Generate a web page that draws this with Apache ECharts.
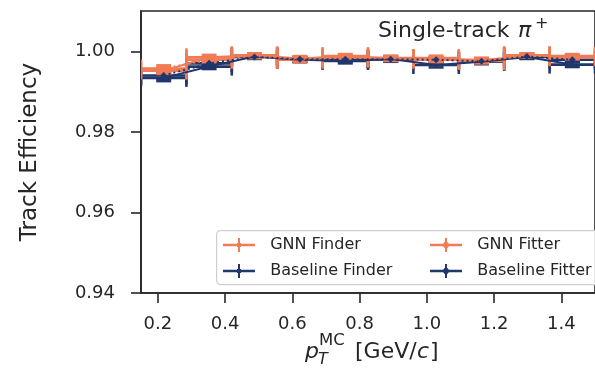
<!DOCTYPE html>
<html><head><meta charset="utf-8">
<script src="https://cdn.jsdelivr.net/npm/echarts@6/dist/echarts.min.js"></script>
<style>html,body{margin:0;padding:0;background:#fff}#c{width:595px;height:369px}</style>
</head><body><div id="c"></div>
<script>
// ---- data ----
const binEdges = [0.15, 0.285, 0.42, 0.555, 0.69, 0.825, 0.96, 1.095, 1.23, 1.365, 1.5];
const gnnFinder      = [0.9952, 0.9985, 0.9990, 0.9982, 0.9988, 0.9983, 0.9983, 0.9978, 0.9989, 0.9988];
const gnnFinderErr   = [0.0008, 0.0006, 0.0005, 0.0006, 0.0005, 0.0006, 0.0006, 0.0006, 0.0005, 0.0005];
const baseFinder     = [0.9934, 0.9962, 0.9987, 0.9979, 0.9976, 0.9981, 0.9966, 0.9974, 0.9986, 0.9967];
const baseFinderErr  = [0.0008, 0.0006, 0.0005, 0.0006, 0.0006, 0.0006, 0.0006, 0.0006, 0.0005, 0.0006];
const gnnFitter      = [0.9957, 0.9979, 0.9988, 0.9979, 0.9984, 0.9982, 0.9979, 0.9976, 0.9990, 0.9985];
const gnnFitterErr   = [0.0008, 0.0006, 0.0005, 0.0006, 0.0005, 0.0006, 0.0006, 0.0006, 0.0005, 0.0005];
const baseFitter     = [0.9940, 0.9970, 0.9986, 0.9980, 0.9980, 0.9980, 0.9979, 0.9975, 0.9987, 0.9979];
const baseFitterErr  = [0.0008, 0.0006, 0.0005, 0.0006, 0.0006, 0.0006, 0.0006, 0.0006, 0.0005, 0.0006];
const xTicks = [0.2, 0.4, 0.6, 0.8, 1.0, 1.2, 1.4];
const yTicks = [0.94, 0.96, 0.98, 1.00];

// ---- styles ----
const ORANGE = '#F07B55', NAVY = '#21376B', INK = '#262626';
const FONT = 'DejaVu Sans';

function errData(vals, errs) {
  return vals.map((v, i) => [(binEdges[i] + binEdges[i + 1]) / 2, v, binEdges[i], binEdges[i + 1], errs[i]]);
}
function errRender(color) {
  return function (params, api) {
    const xc = api.value(0), y = api.value(1), lo = api.value(2), hi = api.value(3), e = api.value(4);
    const L = api.coord([lo, y]), R = api.coord([hi, y]), T = api.coord([xc, y + e]), B = api.coord([xc, y - e]);
    const st = { stroke: color, lineWidth: 2.6 };
    const cv = 9, ch = 7.5;
    return { type: 'group', children: [
      { type: 'line', shape: { x1: L[0], y1: L[1], x2: R[0], y2: R[1] }, style: st },
      { type: 'line', shape: { x1: L[0], y1: L[1] - cv, x2: L[0], y2: L[1] + cv }, style: st },
      { type: 'line', shape: { x1: R[0], y1: R[1] - cv, x2: R[0], y2: R[1] + cv }, style: st },
      { type: 'line', shape: { x1: T[0], y1: T[1], x2: B[0], y2: B[1] }, style: st },
      { type: 'line', shape: { x1: T[0] - ch, y1: T[1], x2: T[0] + ch, y2: T[1] }, style: st },
      { type: 'line', shape: { x1: B[0] - ch, y1: B[1], x2: B[0] + ch, y2: B[1] }, style: st }
    ]};
  };
}
function errSeries(vals, errs, color) {
  return { type: 'custom', renderItem: errRender(color), data: errData(vals, errs), encode: { x: 0, y: 1 }, clip: true, silent: true };
}
function lineSeries(name, vals, errs, color, fitter) {
  return { type: 'line', name: name, data: errData(vals, errs).map(r => [r[0], r[1]]), color: color,
    symbol: fitter ? 'diamond' : 'none', symbolSize: 7, showSymbol: true,
    itemStyle: { color: color },
    lineStyle: { color: color, width: 2, type: fitter ? [2, 3] : 'solid' }, silent: true, animation: false };
}

const finderIcon = 'path://M0,5.7L32,5.7L32,8.3L0,8.3Z M15,0L17,0L17,14L15,14Z M14,5L18,5L18,9L14,9Z';
const fitterIcon = 'path://M0,5.7L32,5.7L32,8.3L0,8.3Z M15,0L17,0L17,14L15,14Z M16,2.5L20,7L16,11.5L12,7Z';

const legendCommon = {
  orient: 'vertical', itemWidth: 32, itemHeight: 14, itemGap: 10, selectedMode: false,
  top: 232, z: 100, formatter: n => '  ' + n,
  itemStyle: { borderWidth: 0 },
  textStyle: { fontSize: 16, fontFamily: FONT, color: INK, lineHeight: 14 }
};

const chart = echarts.init(document.getElementById('c'), null, { renderer: 'canvas' });
chart.setOption({
  animation: false,
  backgroundColor: '#fff',
  grid: { left: 141, top: 11, width: 466, height: 282, show: true, borderColor: INK, borderWidth: 1.6, backgroundColor: 'transparent' },
  xAxis: {
    type: 'value', min: 0.15, max: 1.5,
    axisLine: { show: true, lineStyle: { color: INK, width: 1.6 } },
    axisTick: { show: true, length: 10, customValues: xTicks, lineStyle: { color: INK, width: 1.6 } },
    axisLabel: { customValues: xTicks, margin: 22, fontSize: 18, fontFamily: FONT, color: INK, formatter: v => v.toFixed(1) },
    splitLine: { show: false }
  },
  yAxis: {
    type: 'value', min: 0.94, max: 1.01,
    axisLine: { show: true, lineStyle: { color: INK, width: 1.6 } },
    axisTick: { show: true, length: 10, customValues: yTicks, lineStyle: { color: INK, width: 1.6 } },
    axisLabel: { customValues: yTicks, margin: 26, fontSize: 18, fontFamily: FONT, color: INK, formatter: v => v.toFixed(2) },
    splitLine: { show: false },
    name: 'Track Efficiency', nameLocation: 'middle', nameGap: 99,
    nameTextStyle: { fontSize: 23, fontFamily: FONT, color: INK }
  },
  legend: [
    Object.assign({}, legendCommon, { left: 218, data: [{ name: 'GNN Finder', icon: finderIcon }, { name: 'Baseline Finder', icon: finderIcon }] }),
    Object.assign({}, legendCommon, { left: 425, data: [{ name: 'GNN Fitter', icon: fitterIcon }, { name: 'Baseline Fitter', icon: fitterIcon }] })
  ],
  graphic: [
    { type: 'rect', left: 216, top: 230, z: 50, shape: { width: 400, height: 54, r: 4 }, style: { fill: 'rgba(255,255,255,0.85)', stroke: '#cfcfcf', lineWidth: 1.2 } },
    { type: 'text', x: 378, y: 31, z: 60, style: { text: 'Single-track ', font: '22px "DejaVu Sans"', fill: INK, verticalAlign: 'middle', align: 'left' } },
    { type: 'text', x: 518, y: 31, z: 60, style: { text: 'π', font: 'italic 22px "DejaVu Sans"', fill: INK, verticalAlign: 'middle', align: 'left' } },
    { type: 'text', x: 535, y: 24, z: 60, style: { text: '+', font: '16px "DejaVu Sans"', fill: INK, verticalAlign: 'middle', align: 'left' } },
    { type: 'text', x: 305, y: 352, z: 60, style: { text: 'p', font: 'italic 22px "DejaVu Sans"', fill: INK, verticalAlign: 'middle', align: 'left' } },
    { type: 'text', x: 318, y: 360, z: 60, style: { text: 'T', font: 'italic 16px "DejaVu Sans"', fill: INK, verticalAlign: 'middle', align: 'left' } },
    { type: 'text', x: 319, y: 341, z: 60, style: { text: 'MC', font: '16.5px "DejaVu Sans"', fill: INK, verticalAlign: 'middle', align: 'left' } },
    { type: 'text', x: 355, y: 352, z: 60, style: { text: '[GeV/', font: '22px "DejaVu Sans"', fill: INK, verticalAlign: 'middle', align: 'left' } },
    { type: 'text', x: 417, y: 352, z: 60, style: { text: 'c', font: 'italic 22px "DejaVu Sans"', fill: INK, verticalAlign: 'middle', align: 'left' } },
    { type: 'text', x: 430, y: 352, z: 60, style: { text: ']', font: '22px "DejaVu Sans"', fill: INK, verticalAlign: 'middle', align: 'left' } }
  ],
  series: [
    errSeries(baseFinder, baseFinderErr, NAVY),
    errSeries(baseFitter, baseFitterErr, NAVY),
    errSeries(gnnFinder, gnnFinderErr, ORANGE),
    errSeries(gnnFitter, gnnFitterErr, ORANGE),
    lineSeries('Baseline Finder', baseFinder, baseFinderErr, NAVY, false),
    lineSeries('GNN Finder', gnnFinder, gnnFinderErr, ORANGE, false),
    lineSeries('GNN Fitter', gnnFitter, gnnFitterErr, ORANGE, true),
    lineSeries('Baseline Fitter', baseFitter, baseFitterErr, NAVY, true)
  ]
});
</script>
</body></html>
